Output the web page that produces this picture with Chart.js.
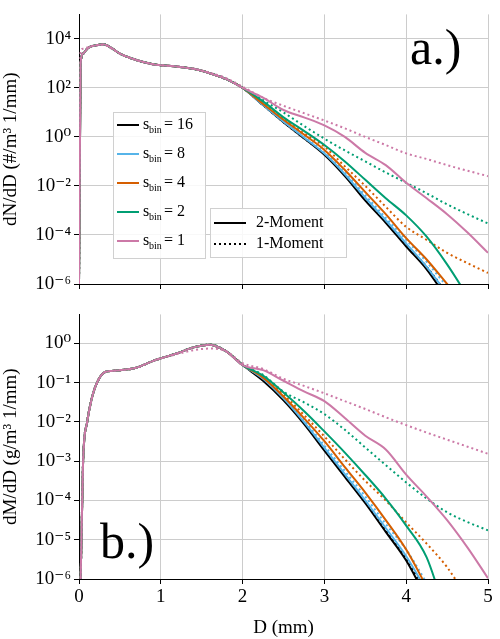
<!DOCTYPE html>
<html>
<head>
<meta charset="utf-8">
<script src="https://cdn.jsdelivr.net/npm/chart.js@4"></script>
<style>
  body { margin: 0; background: #fff; }
  canvas { display: block; }
</style>
</head>
<body>
<div style="width:500px;height:300px"><canvas id="top"></canvas></div>
<div style="width:500px;height:339px"><canvas id="bot"></canvas></div>
<script>
// diametros (mm)
const D = [0, 0.02, 0.05, 0.1, 0.15, 0.2, 0.3, 0.4, 0.5, 0.7, 0.9, 1.0, 1.2, 1.4, 1.6, 1.8, 2.0,
           2.25, 2.5, 2.75, 3.0, 3.25, 3.5, 3.75, 4.0, 4.25, 4.5, 4.75, 5.0];

const sbin = ['16', '8', '4', '2', '1'];
const colores = ['#000000', '#56B4E9', '#D55E00', '#009E73', '#CC79A7'];

// log10 dN/dD, parte comun hasta D = 2
const baseN = [-6, 3.0, 3.4, 3.6, 3.7, 3.73, 3.78, 3.62, 3.4, 3.14, 2.97, 2.93, 2.87, 2.78, 2.6, 2.36, 2.0];
const baseN1pink = [-6, 3.5, 3.6, 3.65, 3.7, 3.73, 3.76, 3.6, 3.4, 3.14, 2.97, 2.93, 2.87, 2.78, 2.62, 2.4, 2.05];
// log10 dN/dD para D = 2.25 ... 5
const colaN2 = [
  [1.3, 0.6, -0.05, -0.73, -1.6, -2.6, -3.5, -4.47, -5.4, -6.6, null, null],
  [1.3, 0.62, -0.02, -0.68, -1.52, -2.48, -3.4, -4.35, -5.3, -6.4, null, null],
  [1.35, 0.7, 0.1, -0.53, -1.35, -2.25, -3.15, -4.13, -5.0, -6.0, -7, null],
  [1.45, 0.8, 0.25, -0.33, -1.0, -1.75, -2.5, -3.2, -4.07, -5.2, -6.5, null],
  [1.6, 1.1, 0.8, 0.47, 0.0, -0.65, -1.15, -1.87, -2.5, -3.15, -3.9, -4.73]
];
const colaN1 = [
  [1.3, 0.6, -0.05, -0.7, -1.55, -2.5, -3.45, -4.4, -5.3, -6.4, null, null],
  [1.32, 0.65, 0.0, -0.63, -1.45, -2.38, -3.3, -4.2, -5.1, -6.1, -7, null],
  [1.38, 0.75, 0.15, -0.4, -1.2, -2.0, -2.85, -3.67, -4.2, -4.73, -5.15, -5.55],
  [1.5, 1.0, 0.45, -0.07, -0.55, -1.0, -1.45, -1.87, -2.3, -2.75, -3.15, -3.53],
  [1.6, 1.27, 0.97, 0.67, 0.35, 0.0, -0.33, -0.67, -0.9, -1.15, -1.38, -1.6]
];

// log10 dM/dD
const baseM = [-7, -6, -3, -2, -1.45, -1.1, -0.75, -0.7, -0.68, -0.62, -0.45, -0.38, -0.25, -0.1, -0.03, -0.2, -0.55];
const baseM1pink = [-7, -6, -3, -2, -1.45, -1.1, -0.75, -0.7, -0.68, -0.62, -0.45, -0.38, -0.27, -0.17, -0.13, -0.2, -0.5];
const colaM2 = [
  [-0.95, -1.45, -2.05, -2.73, -3.4, -4.07, -4.8, -5.53, -6.5, null, null, null],
  [-0.9, -1.4, -2.0, -2.66, -3.33, -4.0, -4.7, -5.42, -6.3, null, null, null],
  [-0.87, -1.35, -1.9, -2.49, -3.15, -3.8, -4.5, -5.25, -6.2, null, null, null],
  [-0.82, -1.25, -1.72, -2.24, -2.78, -3.35, -3.95, -4.64, -5.45, -7, null, null],
  [-0.68, -0.95, -1.22, -1.47, -1.9, -2.35, -2.7, -3.34, -3.9, -4.5, -5.2, -5.98]
];
const colaM1 = [
  [-0.9, -1.42, -2.02, -2.7, -3.36, -4.03, -4.75, -5.48, -6.4, null, null, null],
  [-0.88, -1.38, -1.95, -2.6, -3.25, -3.9, -4.6, -5.25, -6.1, null, null, null],
  [-0.85, -1.3, -1.82, -2.37, -2.95, -3.5, -4.0, -4.56, -5.1, -5.7, -6.5, null],
  [-0.8, -1.23, -1.5, -1.8, -2.2, -2.65, -3.1, -3.54, -3.95, -4.3, -4.55, -4.76],
  [-0.65, -0.9, -1.08, -1.27, -1.47, -1.67, -1.88, -2.08, -2.27, -2.45, -2.63, -2.81]
];

const ticksN = [1e-6, 1e-4, 1e-2, 1, 1e2, 1e4];
const ticksM = [1e-6, 1e-5, 1e-4, 1e-3, 1e-2, 1e-1, 1];
const ticksX = [0, 1, 2, 3, 4, 5];

const fuente = "'Liberation Serif', 'DejaVu Serif', serif";
const sup = { '-': '⁻', '0': '⁰', '1': '¹', '2': '²', '3': '³', '4': '⁴', '5': '⁵', '6': '⁶' };
function potencia(v) {
  const e = String(Math.round(Math.log10(v)));
  return '10' + e.split('').map(c => sup[c]).join('');
}

function serie(base, cola, color, punteado) {
  const logs = base.concat(cola);
  return {
    data: D.map((d, i) => ({ x: d, y: logs[i] == null ? null : Math.pow(10, logs[i]) })),
    borderColor: color,
    borderWidth: 2,
    borderDash: punteado ? [2, 3] : [],
    pointRadius: 0,
    cubicInterpolationMode: 'monotone',
    spanGaps: false
  };
}

// Chart.js pinta primero el ultimo dataset: rosa arriba
function conjuntos(base, base1pink, c2, c1) {
  const out = [];
  for (let i = 4; i >= 0; i--) {
    out.push(serie(i === 4 ? base1pink : base, c1[i], colores[i], true));
    out.push(serie(base, c2[i], colores[i], false));
  }
  return out;
}

function leyendas(ctx) {
  ctx.save();
  ctx.fillStyle = 'rgba(255,255,255,0.85)';
  ctx.strokeStyle = '#d0d0d0';
  ctx.lineWidth = 1;
  ctx.fillRect(113, 112, 92, 146); ctx.strokeRect(113.5, 112.5, 92, 146);
  ctx.fillRect(210, 208, 136, 49); ctx.strokeRect(210.5, 208.5, 136, 49);
  ctx.textBaseline = 'middle';
  for (let i = 0; i < 5; i++) {
    const y = 125 + i * 29;
    ctx.strokeStyle = colores[i]; ctx.lineWidth = 2; ctx.setLineDash([]);
    ctx.beginPath(); ctx.moveTo(117, y); ctx.lineTo(139, y); ctx.stroke();
    ctx.fillStyle = '#000';
    ctx.font = '16px ' + fuente; ctx.fillText('s', 143, y);
    ctx.font = '10px ' + fuente; ctx.fillText('bin', 149, y + 5);
    ctx.font = '16px ' + fuente; ctx.fillText('= ' + sbin[i], 164, y);
  }
  ctx.strokeStyle = '#000'; ctx.lineWidth = 2;
  ctx.beginPath(); ctx.moveTo(214, 223); ctx.lineTo(246, 223); ctx.stroke();
  ctx.setLineDash([2, 3]);
  ctx.beginPath(); ctx.moveTo(214, 244); ctx.lineTo(246, 244); ctx.stroke();
  ctx.setLineDash([]);
  ctx.fillStyle = '#000'; ctx.font = '16px ' + fuente;
  ctx.fillText('2-Moment', 256, 223);
  ctx.fillText('1-Moment', 256, 244);
  ctx.restore();
}

function opciones(ticksY, minY, maxY, tituloY, conX) {
  return {
    responsive: true,
    maintainAspectRatio: false,
    animation: false,
    layout: { padding: conX ? { top: 5, right: 12 } : { top: 8, right: 12 } },
    plugins: { legend: { display: false }, tooltip: { enabled: false } },
    scales: {
      x: {
        type: 'linear', min: 0, max: 5,
        afterBuildTicks: s => { s.ticks = ticksX.map(v => ({ value: v })); },
        afterFit: s => { s.height = conX ? 60 : 16; },
        ticks: { display: conX, color: '#000', font: { family: fuente, size: 19 }, padding: 2 },
        grid: { color: '#cccccc', tickLength: 5, tickColor: '#000' },
        border: { color: '#000', width: 1 },
        title: { display: conX, text: 'D (mm)', color: '#000', font: { family: fuente, size: 19 }, padding: 0 }
      },
      y: {
        type: 'logarithmic', min: minY, max: maxY,
        afterBuildTicks: s => { s.ticks = ticksY.map(v => ({ value: v })); },
        afterFit: s => { s.width = 79; },
        ticks: { color: '#000', font: { family: fuente, size: 19 }, callback: v => potencia(v), padding: 3 },
        grid: { color: '#cccccc', tickLength: 5, tickColor: '#000' },
        border: { color: '#000', width: 1 },
        title: { display: true, text: tituloY, color: '#000', font: { family: fuente, size: 19 }, padding: 0 }
      }
    }
  };
}

const letrero = (texto, x, y, conLeyenda) => ({
  id: 'letrero',
  afterDraw(chart) {
    const ctx = chart.ctx;
    if (conLeyenda) leyendas(ctx);
    ctx.save();
    ctx.fillStyle = '#000';
    ctx.font = '50px ' + fuente;
    ctx.textBaseline = 'alphabetic';
    ctx.fillText(texto, x, y);
    ctx.restore();
  }
});

new Chart(document.getElementById('top'), {
  type: 'line',
  data: { datasets: conjuntos(baseN, baseN1pink, colaN2, colaN1) },
  options: opciones(ticksN, 1e-6, 1e5, 'dN/dD (#/m³ 1/mm)', false),
  plugins: [letrero('a.)', 410, 64, true)]
});

new Chart(document.getElementById('bot'), {
  type: 'line',
  data: { datasets: conjuntos(baseM, baseM1pink, colaM2, colaM1) },
  options: opciones(ticksM, 1e-6, 5.5, 'dM/dD (g/m³ 1/mm)', true),
  plugins: [letrero('b.)', 100, 258, false)]
});
</script>
</body>
</html>
